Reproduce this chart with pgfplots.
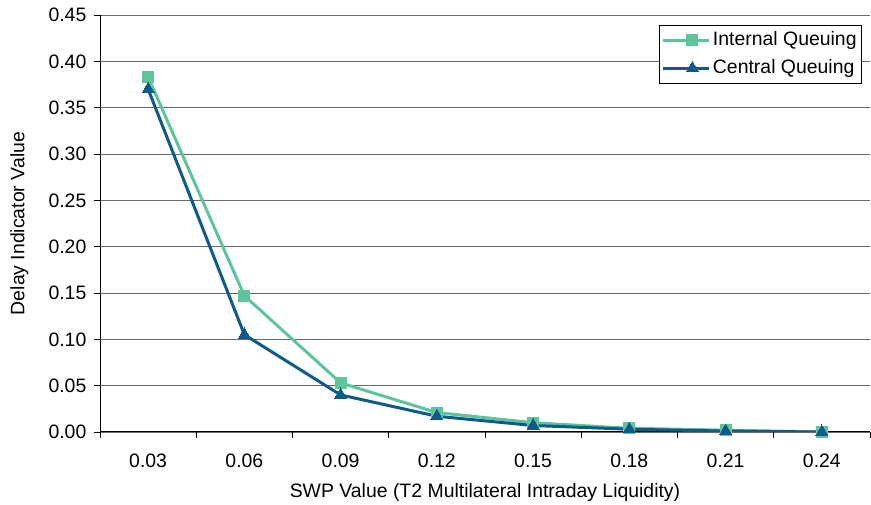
\documentclass[border=0pt]{standalone}
\usepackage{pgfplots}
\pgfplotsset{compat=1.18}
\usepackage{fontspec}
\setmainfont{Liberation Sans}
\usetikzlibrary{calc}
\definecolor{cgreen}{HTML}{5EC49A}
\definecolor{cblue}{HTML}{0E5A8A}
\definecolor{cgrid}{HTML}{6A6A6A}
\newcommand{\cf}{\fontsize{19.5}{23}\selectfont}
\begin{document}
\cf
\begin{tikzpicture}
\begin{axis}[
  name=ax,
  scale only axis,
  width=770bp, height=417bp,
  xmin=-0.5, xmax=7.5,
  ymin=0, ymax=0.45,
  axis x line*=bottom, axis y line*=left,
  axis line style={black, line width=1bp, -},
  xtick={0,...,7},
  xticklabels={0.03,0.06,0.09,0.12,0.15,0.18,0.21,0.24},
  major x tick style={draw=none},
  minor xtick={-0.5,0.5,...,7.5},
  minor x tick style={black, line width=0.8bp},
  ytick={0,0.05,...,0.45},
  yticklabel style={/pgf/number format/fixed, /pgf/number format/fixed zerofill, /pgf/number format/precision=2},
  /pgf/number format/assume math mode=true,
  y tick style={black, line width=0.8bp},
  tick align=outside,
  major tick length=6bp, minor tick length=6bp,
  ymajorgrids,
  grid style={cgrid, line width=0.8bp},
  xticklabel style={yshift=-9bp},
  yticklabel style={xshift=-1bp},
  xlabel={SWP Value (T2 Multilateral Intraday Liquidity)},
  ylabel={Delay Indicator Value},
  xlabel style={yshift=-3bp},
  ylabel style={yshift=7bp},
  tick label style={font=\cf},
  label style={font=\cf},
  legend style={at={(1,1)}, anchor=north east, xshift=-8bp, yshift=-10bp,
    draw=black, line width=0.8bp, font=\cf,
    row sep=7bp, inner xsep=3bp, inner ysep=4.5bp, cells={anchor=west}},
  legend image code/.code={
    \path (-14bp,0bp) -- (32bp,0bp);
    \draw[#1, line width=3bp] (0bp,0bp) -- (30bp,0bp);
    \draw[#1, only marks] plot coordinates {(15bp,0bp)};
  },
]
\addplot[cgreen, line width=3bp, mark=square*, mark size=5.5bp, mark options={solid, fill=cgreen, draw=cgreen, line width=0bp}]
  coordinates {(0,0.383) (1,0.147) (2,0.053) (3,0.021) (4,0.010) (5,0.004) (6,0.002) (7,0.000)};
\addlegendentry{Internal Queuing}
\addplot[cblue, line width=3bp, mark=triangle*, mark size=7bp, mark options={solid, fill=cblue, draw=cblue, line width=0bp}]
  coordinates {(0,0.370) (1,0.105) (2,0.040) (3,0.017) (4,0.007) (5,0.003) (6,0.001) (7,0.000)};
\addlegendentry{Central Queuing}
\end{axis}
\pgfresetboundingbox
\path ($(ax.south west)+(-100bp,-73bp)$) rectangle ($(ax.north east)+(1bp,15bp)$);
\end{tikzpicture}
\end{document}
